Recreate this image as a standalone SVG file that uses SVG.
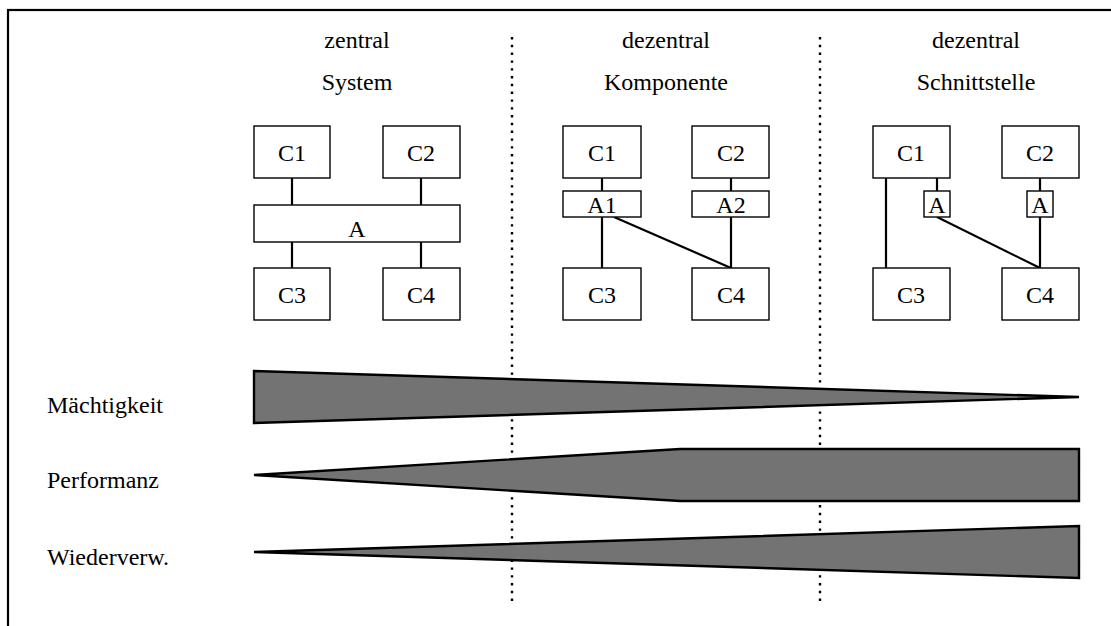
<svg xmlns="http://www.w3.org/2000/svg" width="1111" height="626" viewBox="0 0 1111 626" font-family="'Liberation Serif', 'DejaVu Serif', serif">
  <style>
    text { font-family: "Liberation Serif", "DejaVu Serif", serif; font-size: 24px; fill: #000; }
    .mid { text-anchor: middle; }
    .box { fill: #fff; stroke: #000; stroke-width: 1.4; }
    .link { stroke: #000; stroke-width: 2.2; fill: none; }
    .sep { stroke: #000; stroke-width: 2.4; stroke-dasharray: 2.4 5.4; fill: none; }
    .wedge { fill: #737373; stroke: #000; stroke-width: 2.4; stroke-linejoin: miter; }
  </style>

  <rect width="1111" height="626" fill="#fff"/>
  <!-- outer frame (runs past the right and bottom edges) -->
  <rect x="8" y="10" width="1200" height="700" fill="none" stroke="#000" stroke-width="2.2"/>

  <!-- column separators -->
  <line class="sep" x1="512" y1="37" x2="512" y2="606"/>
  <line class="sep" x1="820" y1="37" x2="820" y2="606"/>

  <!-- column headings -->
  <g id="head-zentral">
    <text class="mid" x="357" y="48">zentral</text>
    <text class="mid" x="357" y="90">System</text>
  </g>
  <g id="head-komponente">
    <text class="mid" x="666" y="48">dezentral</text>
    <text class="mid" x="666" y="90">Komponente</text>
  </g>
  <g id="head-schnittstelle">
    <text class="mid" x="976" y="48">dezentral</text>
    <text class="mid" x="976" y="90">Schnittstelle</text>
  </g>

  <!-- connectors -->
  <g id="connectors">
    <!-- central -->
    <line class="link" x1="292" y1="178" x2="292" y2="205"/>
    <line class="link" x1="421" y1="178" x2="421" y2="205"/>
    <line class="link" x1="292" y1="242" x2="292" y2="268"/>
    <line class="link" x1="421" y1="242" x2="421" y2="268"/>
    <!-- component -->
    <line class="link" x1="602" y1="178" x2="602" y2="191"/>
    <line class="link" x1="602" y1="217" x2="602" y2="268"/>
    <line class="link" x1="731" y1="178" x2="731" y2="191"/>
    <line class="link" x1="731" y1="217" x2="731" y2="268"/>
    <line class="link" x1="614" y1="217" x2="731" y2="268"/>
    <!-- interface -->
    <line class="link" x1="886" y1="178" x2="886" y2="268"/>
    <line class="link" x1="937" y1="178" x2="937" y2="191"/>
    <line class="link" x1="1040" y1="178" x2="1040" y2="191"/>
    <line class="link" x1="1040" y1="217" x2="1040" y2="268"/>
    <line class="link" x1="937" y1="217" x2="1040" y2="268"/>
  </g>

  <!-- central: one adapter for the whole system -->
  <g id="s-c1"><rect class="box" x="254" y="126" width="76" height="52"/><text class="mid" x="292" y="161">C1</text></g>
  <g id="s-c2"><rect class="box" x="383" y="126" width="77" height="52"/><text class="mid" x="421" y="161">C2</text></g>
  <g id="s-a"><rect class="box" x="254" y="205" width="206" height="37"/><text class="mid" x="357" y="237">A</text></g>
  <g id="s-c3"><rect class="box" x="254" y="268" width="76" height="52"/><text class="mid" x="292" y="303">C3</text></g>
  <g id="s-c4"><rect class="box" x="383" y="268" width="77" height="52"/><text class="mid" x="421" y="303">C4</text></g>

  <!-- decentral: adapter per component -->
  <g id="k-c1"><rect class="box" x="563" y="126" width="78" height="52"/><text class="mid" x="602" y="161">C1</text></g>
  <g id="k-c2"><rect class="box" x="692" y="126" width="77" height="52"/><text class="mid" x="731" y="161">C2</text></g>
  <g id="k-a1"><rect class="box" x="563" y="191" width="78" height="26"/><text class="mid" x="602" y="213">A1</text></g>
  <g id="k-a2"><rect class="box" x="692" y="191" width="77" height="26"/><text class="mid" x="731" y="213">A2</text></g>
  <g id="k-c3"><rect class="box" x="563" y="268" width="78" height="52"/><text class="mid" x="602" y="303">C3</text></g>
  <g id="k-c4"><rect class="box" x="692" y="268" width="77" height="52"/><text class="mid" x="731" y="303">C4</text></g>

  <!-- decentral: adapter per interface -->
  <g id="i-c1"><rect class="box" x="873" y="126" width="77" height="52"/><text class="mid" x="911" y="161">C1</text></g>
  <g id="i-c2"><rect class="box" x="1002" y="126" width="77" height="52"/><text class="mid" x="1040" y="161">C2</text></g>
  <g id="i-a1"><rect class="box" x="924" y="191" width="26" height="26"/><text class="mid" x="937" y="213">A</text></g>
  <g id="i-a2"><rect class="box" x="1027" y="191" width="26" height="26"/><text class="mid" x="1040" y="213">A</text></g>
  <g id="i-c3"><rect class="box" x="873" y="268" width="77" height="52"/><text class="mid" x="911" y="303">C3</text></g>
  <g id="i-c4"><rect class="box" x="1002" y="268" width="77" height="52"/><text class="mid" x="1040" y="303">C4</text></g>

  <!-- property wedges -->
  <g id="maechtigkeit">
    <text x="47" y="413">Mächtigkeit</text>
    <polygon class="wedge" points="254,371 1079,397 254,423"/>
  </g>
  <g id="performanz">
    <text x="47" y="488">Performanz</text>
    <polygon class="wedge" points="254,475 680,449 1079,449 1079,501 680,501"/>
  </g>
  <g id="wiederverwendung">
    <text x="47" y="565">Wiederverw.</text>
    <polygon class="wedge" points="254,552 1079,526 1079,578"/>
  </g>
</svg>
